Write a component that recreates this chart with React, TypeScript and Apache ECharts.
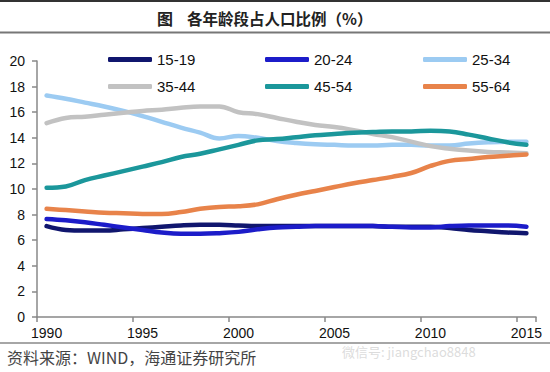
import React, { useEffect, useRef } from "react";
import * as echarts from "echarts";

const years = ["1990","1991","1992","1993","1994","1995","1996","1997","1998","1999","2000","2001","2002","2003","2004","2005","2006","2007","2008","2009","2010","2011","2012","2013","2014","2015"];
const yTicks = [0, 2, 4, 6, 8, 10, 12, 14, 16, 18, 20];

const names = ["15-19", "20-24", "25-34", "35-44", "45-54", "55-64"];
const colors = ["#10166e", "#1c1cc9", "#9ccbf2", "#c2c2c2", "#1b979b", "#e8834a"];

const age15_19 = [7.1, 6.8, 6.75, 6.75, 6.85, 6.95, 7.05, 7.15, 7.2, 7.2, 7.15, 7.1, 7.1, 7.1, 7.1, 7.1, 7.1, 7.1, 7.05, 7.05, 7.05, 6.95, 6.8, 6.7, 6.6, 6.55];
const age20_24 = [7.65, 7.55, 7.4, 7.2, 7.0, 6.8, 6.6, 6.5, 6.5, 6.55, 6.65, 6.85, 7.0, 7.05, 7.1, 7.1, 7.1, 7.1, 7.05, 7.0, 7.0, 7.1, 7.15, 7.15, 7.15, 7.05];
const age25_34 = [17.3, 17.05, 16.75, 16.45, 16.1, 15.7, 15.25, 14.8, 14.4, 13.95, 14.15, 14.0, 13.75, 13.6, 13.5, 13.45, 13.4, 13.4, 13.45, 13.45, 13.4, 13.4, 13.55, 13.65, 13.7, 13.7];
const age35_44 = [15.15, 15.55, 15.65, 15.8, 15.95, 16.1, 16.2, 16.35, 16.45, 16.45, 16.0, 15.85, 15.55, 15.25, 15.0, 14.85, 14.6, 14.3, 14.05, 13.7, 13.35, 13.15, 13.0, 12.9, 12.85, 12.8];
const age45_54 = [10.1, 10.2, 10.7, 11.05, 11.4, 11.75, 12.1, 12.5, 12.75, 13.1, 13.45, 13.8, 13.9, 14.05, 14.2, 14.3, 14.4, 14.45, 14.5, 14.5, 14.55, 14.5, 14.25, 13.95, 13.65, 13.45];
const age55_64 = [8.45, 8.35, 8.25, 8.15, 8.1, 8.05, 8.05, 8.2, 8.45, 8.6, 8.65, 8.8, 9.2, 9.55, 9.85, 10.15, 10.45, 10.7, 10.95, 11.25, 11.8, 12.2, 12.35, 12.5, 12.6, 12.7];

const seriesData = [age15_19, age20_24, age25_34, age35_44, age45_54, age55_64];

const titleMark = "图";
const titleText = "各年龄段占人口比例（%）";
const sourceText = "资料来源：WIND，海通证券研究所";
const watermark = "微信号: jiangchao8848";

export default function App() {
  const ref = useRef<HTMLDivElement>(null);
  useEffect(() => {
    if (!ref.current) return;
    const chart = echarts.init(ref.current, null, { renderer: "svg" });
    const legendPos = [
      { left: 108, top: 52 },
      { left: 265, top: 52 },
      { left: 423, top: 52 },
      { left: 108, top: 79 },
      { left: 265, top: 79 },
      { left: 423, top: 79 },
    ];
    const numFont = "'Liberation Sans', Arial, sans-serif";
    const cjkFont = "'Noto Sans CJK SC', sans-serif";
    chart.setOption({
      animation: false,
      backgroundColor: "#ffffff",
      grid: { left: 37, right: 14, top: 61, bottom: 55, containLabel: false },
      legend: names.map((n, i) => ({
        data: [n],
        left: legendPos[i].left,
        top: legendPos[i].top,
        padding: 0,
        icon: "roundRect",
        itemWidth: 44,
        itemHeight: 5,
        textStyle: { fontSize: 15, color: "#111", fontFamily: numFont },
        selectedMode: false,
      })),
      xAxis: {
        type: "category",
        data: years,
        boundaryGap: true,
        axisLine: { show: true, lineStyle: { color: "#888", width: 1.5 } },
        axisTick: { show: true, interval: 4, length: 5, lineStyle: { color: "#888", width: 1.5 } },
        axisLabel: { interval: 4, fontSize: 14, color: "#111", fontFamily: numFont, margin: 9 },
        splitLine: { show: false },
      },
      yAxis: {
        type: "value",
        min: yTicks[0],
        max: yTicks[yTicks.length - 1],
        interval: 2,
        axisLine: { show: true, lineStyle: { color: "#888", width: 1.5 } },
        axisTick: { show: true, length: 5, lineStyle: { color: "#888", width: 1.5 } },
        axisLabel: { fontSize: 14, color: "#111", fontFamily: numFont, margin: 12 },
        splitLine: { show: false },
      },
      series: names.map((n, i) => ({
        name: n,
        type: "line",
        data: seriesData[i],
        smooth: 0.4,
        showSymbol: false,
        symbol: "none",
        lineStyle: { width: 4.5, color: colors[i], cap: "round" },
        itemStyle: { color: colors[i] },
      })),
      graphic: [
        { type: "line", shape: { x1: 0, y1: 1, x2: 550, y2: 1 }, style: { stroke: "#333", lineWidth: 2 } },
        { type: "line", shape: { x1: 0, y1: 32.5, x2: 550, y2: 32.5 }, style: { stroke: "#777", lineWidth: 2 } },
        { type: "text", left: 157, top: 10, style: { text: titleMark, fontSize: 16, fontWeight: "bold", fill: "#222", fontFamily: cjkFont } },
        { type: "text", left: 187, top: 10, style: { text: titleText, fontSize: 15.5, fontWeight: "bold", fill: "#222", fontFamily: cjkFont } },
        { type: "line", shape: { x1: 0, y1: 343, x2: 550, y2: 343 }, style: { stroke: "#888", lineWidth: 1.5 } },
        { type: "text", left: 7, top: 349, style: { text: sourceText, fontSize: 16, fill: "#444", fontFamily: cjkFont } },
        { type: "text", left: 342, top: 345, z: -1, style: { text: watermark, fontSize: 13, fill: "rgba(190,190,190,0.55)", fontFamily: cjkFont } },
      ],
    });
    return () => chart.dispose();
  }, []);
  return <div ref={ref} style={{ position: "fixed", left: 0, top: 0, width: 550, height: 372 }} />;
}
